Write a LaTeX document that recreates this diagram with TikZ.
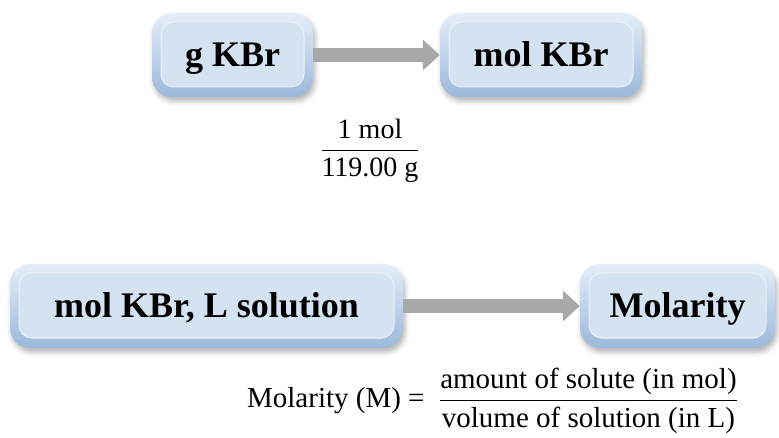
\documentclass[tikz,border=0pt]{standalone}
\usepackage{amsmath}
\usepackage{fix-cm}
\usepackage{fontspec}
\setmainfont{Liberation Serif}
\usetikzlibrary{arrows.meta,shadows.blur}

\definecolor{rimtop}{HTML}{E4EEF9}
\definecolor{rimbot}{HTML}{9BB8DB}
\definecolor{boxfill}{HTML}{D4E2F1}
\definecolor{arrowgray}{HTML}{A8A8A8}

\tikzset{
  box/.style={
    rounded corners=20pt, inner sep=0pt, minimum height=84pt,
    text height=24pt, text depth=0pt,
    top color=rimtop, bottom color=rimbot,
    blur shadow={shadow xshift=2pt, shadow yshift=-4pt,
                 shadow blur radius=5pt, shadow opacity=30},
    font=\fontsize{36}{40}\selectfont\bfseries,
    path picture={
      \fill[boxfill, draw=white!55!boxfill, line width=1pt, rounded corners=13pt]
        ([shift={(9pt,10pt)}]path picture bounding box.south west)
        rectangle
        ([shift={(-9pt,-9pt)}]path picture bounding box.north east);
    }
  },
  link/.style={draw=arrowgray, line width=14pt,
               -{Triangle[length=17pt,width=30pt]}},
  formula/.style={font=\fontsize{29}{34}\selectfont, inner sep=0pt},
  ratio/.style={font=\fontsize{28}{32}\selectfont, inner sep=0pt}
}

\begin{document}
\begin{tikzpicture}[x=1pt,y=-1pt]
  \useasboundingbox (0,0) rectangle (779,438);

  % grams to moles
  \node[box, minimum width=161pt] (gkbr)  at (232.5,55) {g KBr};
  \node[box, minimum width=202pt] (molkbr) at (541,55)  {mol KBr};
  \draw[link] (gkbr.east) -- (molkbr.west);
  \node[ratio] (conv) at (370,151)
    {$\genfrac{}{}{1.1pt}{0}{\text{1 mol}}{\text{119.00 g}}$};

  % moles and volume to molarity
  \node[box, minimum width=393pt] (molL) at (206.5,306) {mol KBr, L solution};
  \node[box, minimum width=195pt] (molar) at (677.5,306) {Molarity};
  \draw[link] (molL.east) -- (molar.west);
  \node[formula] (def) at (492.5,401)
    {$\text{Molarity (M) =}\ \ \genfrac{}{}{1.1pt}{0}{\text{amount of solute (in mol)}}{\text{volume of solution (in L)}}$};
\end{tikzpicture}
\end{document}
